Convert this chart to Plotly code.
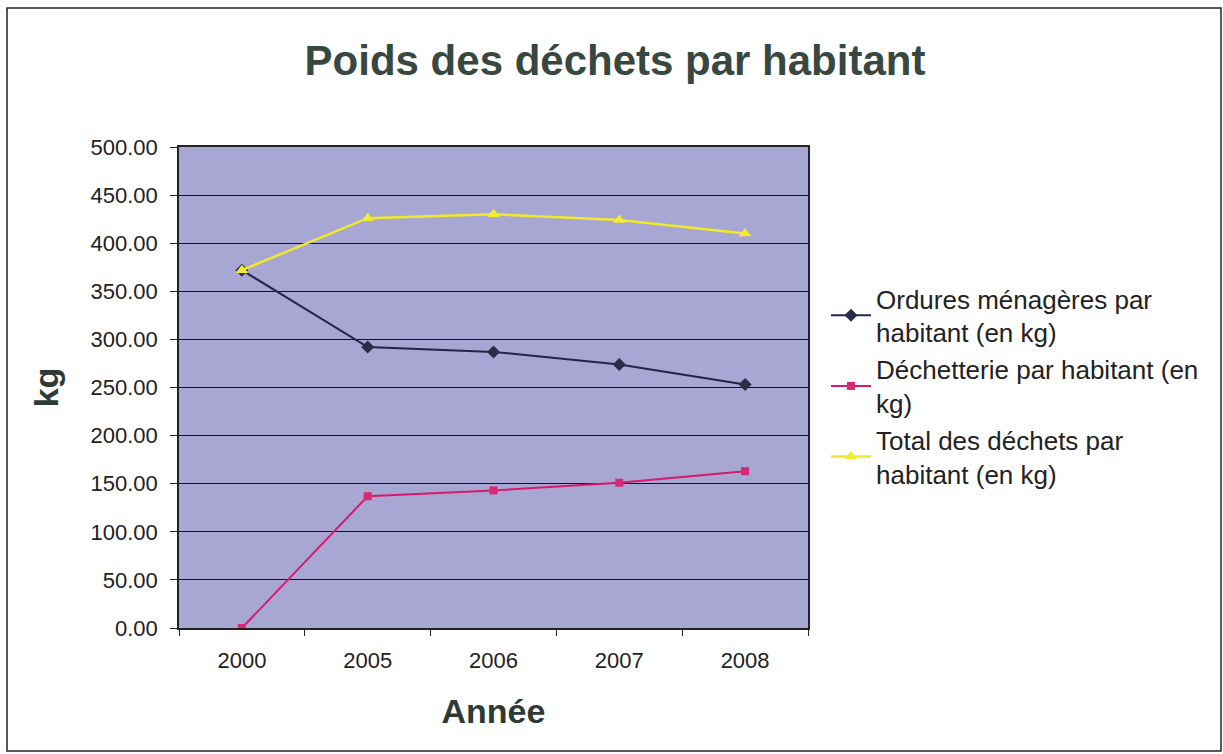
import plotly.graph_objects as go

years = ["2000", "2005", "2006", "2007", "2008"]
ordures = [372, 292, 287, 274, 253]
dechetterie = [0, 137, 143, 151, 163]
total = [372, 426, 430, 424, 410]
y_ticks = [0, 50, 100, 150, 200, 250, 300, 350, 400, 450, 500]

W, H = 1223, 754
L, R, T, B = 179, 808, 147, 628

fig = go.Figure()
fig.add_trace(go.Scatter(
    x=years, y=ordures, mode="lines+markers",
    name="Ordures ménagères par<br>habitant (en kg)",
    line=dict(color="#22244a", width=2),
    marker=dict(symbol="diamond", size=10, color="#2a2c48"),
))
fig.add_trace(go.Scatter(
    x=years, y=dechetterie, mode="lines+markers",
    name="Déchetterie par habitant (en<br>kg)",
    line=dict(color="#d81a6e", width=2),
    marker=dict(symbol="square", size=8, color="#d42a74"),
))
fig.add_trace(go.Scatter(
    x=years, y=total, mode="lines+markers",
    name="Total des déchets par<br>habitant (en kg)",
    line=dict(color="#f0ea2a", width=2.5),
    marker=dict(symbol="triangle-up", size=11, color="#f2ec30"),
))

def px_x(px):
    return (px - L) / (R - L)

def px_y(py):
    return (B - py) / (B - T)

fig.add_shape(type="rect", xref="paper", yref="paper",
              x0=px_x(7), x1=px_x(1221), y0=px_y(751), y1=px_y(8),
              line=dict(color="#222222", width=1.5), fillcolor="rgba(0,0,0,0)",
              layer="below")

fig.update_layout(
    width=W, height=H,
    margin=dict(l=L, r=W - R, t=T, b=H - B),
    paper_bgcolor="white",
    plot_bgcolor="#a8a6d2",
    font=dict(family="Liberation Sans, Arial, sans-serif", color="#222222", size=22),
    title=dict(text="<b>Poids des déchets par habitant</b>",
               x=615 / W, xanchor="center", y=1 - 60 / H, yanchor="middle",
               font=dict(size=42, color="#384840")),
    showlegend=True,
    legend=dict(x=px_x(826), y=px_y(275), xanchor="left", yanchor="top",
                font=dict(size=26, color="#222222"),
                bgcolor="rgba(0,0,0,0)", itemwidth=40),
    xaxis=dict(
        type="category", categoryorder="array", categoryarray=years,
        range=[-0.5, len(years) - 0.5],
        tickmode="array", tickvals=years, ticktext=years,
        tickson="boundaries", ticks="outside", ticklen=6, tickcolor="#222",
        showline=True, linecolor="#222", linewidth=1.5, mirror=True,
        showgrid=False, tickfont=dict(size=22), ticklabelstandoff=12,
        title=dict(text="<b>Année</b>", font=dict(size=34, color="#2e3a34"), standoff=27),
    ),
    yaxis=dict(
        range=[0, 500], tickmode="array", tickvals=y_ticks,
        tickformat=".2f", ticks="outside", ticklen=7, tickcolor="#222",
        showline=True, linecolor="#222", linewidth=1.5, mirror=True,
        showgrid=True, gridcolor="#111122", gridwidth=1.2, zeroline=False,
        tickfont=dict(size=22), ticklabelstandoff=8,
        title=dict(text="<b>kg</b>", font=dict(size=34, color="#2e3a34"), standoff=22),
    ),
)

fig.write_html("out.html", config={"displayModeBar": False},
               post_script="document.body.style.margin='0';document.body.style.overflow='hidden';")
